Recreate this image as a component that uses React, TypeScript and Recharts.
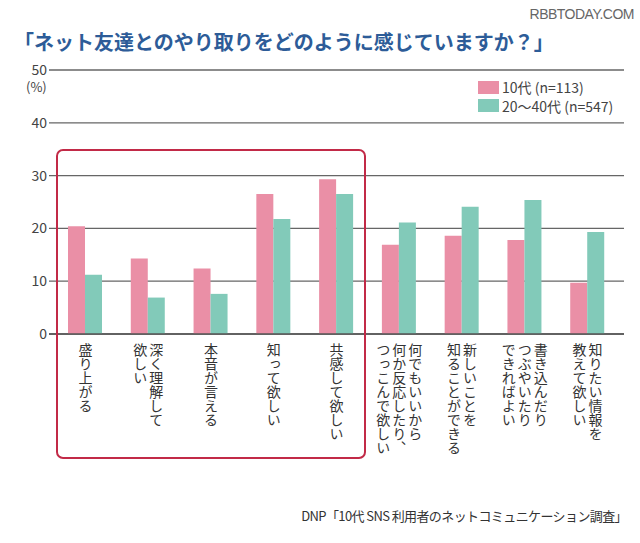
import React from "react";
import { BarChart, Bar, XAxis, YAxis, CartesianGrid } from "recharts";

const categories = [
  "盛り上がる",
  "深く理解して欲しい",
  "本音が言える",
  "知って欲しい",
  "共感して欲しい",
  "何でもいいから何か反応したり、つっこんで欲しい",
  "新しいことを知ることができる",
  "書き込んだりつぶやいたりできればよい",
  "知りたい情報を教えて欲しい",
];

// columns of the vertical labels, first one is the rightmost
const labelLines = [
  ["盛り上がる"],
  ["深く理解して", "欲しい"],
  ["本音が言える"],
  ["知って欲しい"],
  ["共感して欲しい"],
  ["何でもいいから", "何か反応したり、", "つっこんで欲しい"],
  ["新しいことを", "知ることができる"],
  ["書き込んだり", "つぶやいたり", "できればよい"],
  ["知りたい情報を", "教えて欲しい"],
];

const teens = [20.4, 14.3, 12.4, 26.5, 29.3, 16.9, 18.6, 17.8, 9.7];
const adults = [11.2, 6.9, 7.6, 21.8, 26.5, 21.1, 24.1, 25.4, 19.3];

const yTicks = [0, 10, 20, 30, 40, 50];

const teenName = "10代 (n=113)";
const adultName = "20〜40代 (n=547)";

const PINK = "#ea8fa6";
const TEAL = "#82cab9";
const FONT = "'Noto Sans CJK JP', 'Noto Sans', sans-serif";

const data = categories.map((name, i) => ({
  name,
  teens: teens[i],
  adults: adults[i],
}));

const legendItems = [
  { name: teenName, color: PINK },
  { name: adultName, color: TEAL },
];

function XTick(props: any) {
  const { x, payload, index } = props;
  const lines = labelLines[index] || [payload.value];
  const n = lines.length;
  return (
    <g>
      {lines.map((line: string, i: number) => (
        <text
          key={i}
          x={x + ((n - 1) / 2 - i) * 16}
          y={343}
          fill="#333"
          fontSize={14}
          fontFamily={FONT}
          style={{ writingMode: "vertical-rl" as any }}
        >
          {line}
        </text>
      ))}
    </g>
  );
}

function YTick(props: any) {
  const { y, payload } = props;
  return (
    <text x={47} y={y} dy={5} textAnchor="end" fill="#444" fontSize={14} fontFamily={FONT}>
      {payload.value}
    </text>
  );
}

export default function App() {
  return (
    <div
      style={{
        position: "absolute",
        left: 0,
        top: 0,
        width: 640,
        height: 543,
        background: "#fff",
        fontFamily: FONT,
      }}
    >
      <div
        style={{
          position: "absolute",
          right: 6,
          top: 6,
          fontSize: 14,
          color: "#666",
          fontFamily: "'Liberation Sans', sans-serif",
          letterSpacing: -0.5,
        }}
      >
        RBBTODAY.COM
      </div>
      <div
        style={{
          position: "absolute",
          left: 14,
          top: 27,
          fontSize: 20,
          fontWeight: 700,
          color: "#2d5c98",
          whiteSpace: "nowrap",
        }}
      >
        「ネット友達とのやり取りをどのように感じていますか？」
      </div>
      <div
        style={{
          position: "absolute",
          left: 26,
          top: 77,
          fontSize: 13,
          color: "#444",
        }}
      >
        (%)
      </div>

      <div style={{ position: "absolute", left: 0, top: 0 }}>
        <BarChart
          width={640}
          height={543}
          data={data}
          margin={{ top: 70, right: 16, bottom: 0, left: 0 }}
          barSize={17}
          barGap={0}
        >
          <CartesianGrid horizontal vertical={false} stroke="#666" strokeWidth={1.3} />
          <XAxis
            dataKey="name"
            interval={0}
            height={209}
            padding={{ left: 5, right: 5 }}
            axisLine={{ stroke: "#555", strokeWidth: 1.3 }}
            tickLine={false}
            tick={<XTick />}
          />
          <YAxis
            width={49}
            domain={[0, 50]}
            ticks={yTicks}
            axisLine={false}
            tickLine={false}
            tick={<YTick />}
          />
          <Bar dataKey="teens" name={teenName} fill={PINK} isAnimationActive={false} />
          <Bar dataKey="adults" name={adultName} fill={TEAL} isAnimationActive={false} />
        </BarChart>
      </div>

      <div
        style={{
          position: "absolute",
          left: 478,
          top: 78,
          fontSize: 14,
          color: "#444",
          background: "#fff",
          paddingRight: 2,
        }}
      >
        {legendItems.map((it) => (
          <div key={it.name} style={{ display: "flex", alignItems: "center", height: 18.5 }}>
            <span
              style={{
                display: "inline-block",
                width: 21,
                height: 13,
                background: it.color,
                marginRight: 3,
              }}
            />
            <span>{it.name}</span>
          </div>
        ))}
      </div>

      <div
        style={{
          position: "absolute",
          left: 56,
          top: 149,
          width: 306,
          height: 306,
          border: "2px solid #c22a47",
          borderRadius: 7,
          pointerEvents: "none",
        }}
      />

      <div
        style={{
          position: "absolute",
          right: 13,
          top: 506,
          fontSize: 13,
          color: "#333",
          whiteSpace: "nowrap",
          letterSpacing: -0.6,
        }}
      >
        DNP「10代 SNS 利用者のネットコミュニケーション調査」
      </div>
    </div>
  );
}
